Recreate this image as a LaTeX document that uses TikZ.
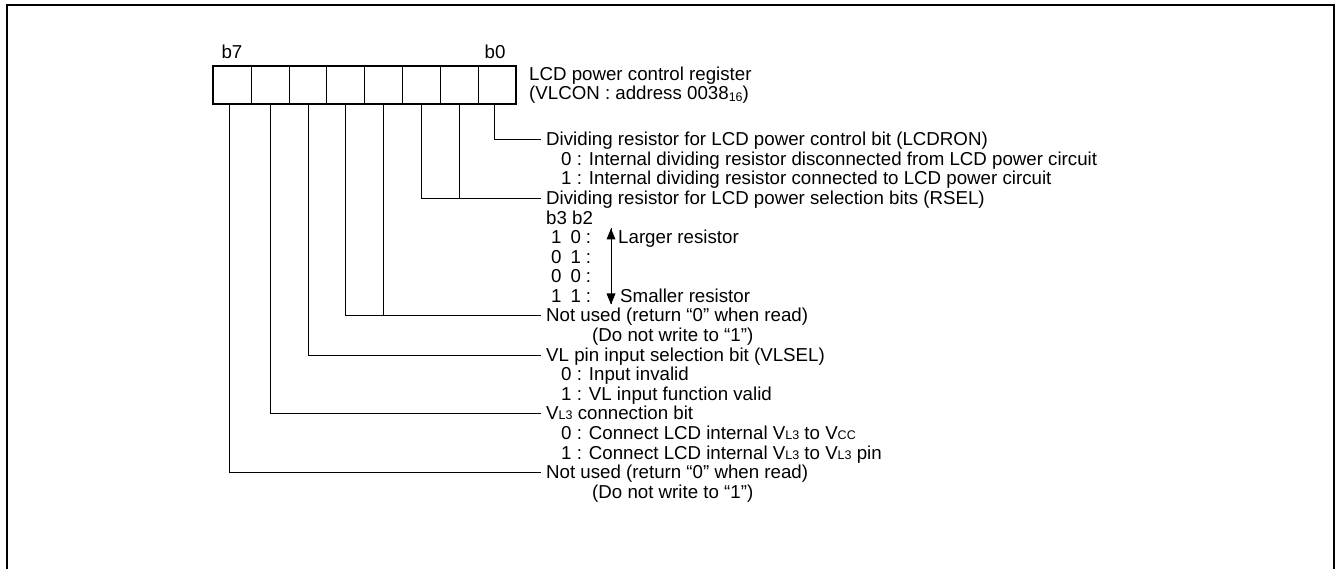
\documentclass[tikz,border=0pt]{standalone}
\usepackage{fontspec}
\setmainfont{Liberation Sans}
\usetikzlibrary{arrows.meta}
\newcommand\smx[1]{{\fontsize{12.5}{12.5}\selectfont #1}}
\newcommand\subx[1]{\raisebox{-1.5pt}{\fontsize{12.5}{12.5}\selectfont #1}}
\newcommand\rowx[2]{#1\hspace{9pt}#2\hspace{5pt}:}
\begin{document}
\begin{tikzpicture}[x=1pt,y=-1pt,
  txt/.style={anchor=west, inner xsep=0pt, inner ysep=0pt, text height=13.5pt, text depth=1.5pt, font=\fontsize{18.7}{19.5}\selectfont},
  lbl/.style={txt, inner xsep=5pt},
  cell/.style={draw, line width=1pt, minimum width=37.8pt, minimum height=37pt, inner sep=0pt, anchor=north west},
  wire/.style={line width=1pt},
  frame/.style={line width=2pt},
  head/.style={fill=black}
]
\useasboundingbox (0,0) rectangle (1336,569);
\fill[white] (0,0) rectangle (1336,569);
\draw[frame] (7,600) -- (7,5.5) -- (1333.5,5.5) -- (1333.5,600);

% register cells
\foreach \i in {0,...,7} {
  \pgfmathtruncatemacro\b{7-\i}
  \node[cell] (c\b) at ({213+37.8*\i},66.5) {};
}
\draw[frame] (c7.north west) rectangle (c0.south east);
\node[txt,anchor=center] (hb7) at (232,53) {b7};
\node[txt,anchor=center] (hb0) at (495,53) {b0};

\node[txt] (title) at (529,74.5) {LCD power control register};
\node[txt] (addr) at (529,94) {(VLCON : address 0038\subx{16})};

% bit descriptions
\node[lbl] (n0) at (541,140) {Dividing resistor for LCD power control bit (LCDRON)};
\node[txt] (n0a) at (561,159.5) {0 : Internal dividing resistor disconnected from LCD power circuit};
\node[txt] (n0b) at (561,179) {1 : Internal dividing resistor connected to LCD power circuit};

\node[lbl] (n1) at (541,198.7) {Dividing resistor for LCD power selection bits (RSEL)};
\node[txt] (n1h) at (546,218.2) {b3 b2};
\node[txt] (n1a) at (551,237.8) {\rowx{1}{0}};
\node[txt] (n1b) at (551,257.4) {\rowx{0}{1}};
\node[txt] (n1c) at (551,276.9) {\rowx{0}{0}};
\node[txt] (n1d) at (551,296.5) {\rowx{1}{1}};
\node[txt] (large) at (618,237.8) {Larger resistor};
\node[txt] (small) at (620,296.5) {Smaller resistor};
\coordinate (atop) at (611,228.5);
\coordinate (abot) at (611,304.5);
\draw[wire] (atop) -- (abot);
\fill[head] (atop) -- ++(-4.5,11) -- ++(9,0) -- cycle;
\fill[head] (abot) -- ++(-4.5,-11) -- ++(9,0) -- cycle;

\node[lbl] (n3) at (541,316) {Not used (return “0” when read)};
\node[txt] (n3a) at (592,335.6) {(Do not write to “1”)};

\node[lbl] (n5) at (541,355.2) {VL pin input selection bit (VLSEL)};
\node[txt] (n5a) at (561,374.8) {0 : Input invalid};
\node[txt] (n5b) at (561,394.3) {1 : VL input function valid};

\node[lbl] (n6) at (541,413.9) {V\smx{L3} connection bit};
\node[txt] (n6a) at (561,433.4) {0 : Connect LCD internal V\smx{L3} to V\smx{CC}};
\node[txt] (n6b) at (561,453) {1 : Connect LCD internal V\smx{L3} to V\smx{L3} pin};

\node[lbl] (n7) at (541,472.6) {Not used (return “0” when read)};
\node[txt] (n7a) at (592,492.1) {(Do not write to “1”)};

% connectors
\draw[wire] ([xshift=-3pt]c0.south) |- (n0.west);
\draw[wire] (c2.south) |- (n1.west);
\draw[wire] (c1.south) -- (c1.south |- n1.west);
\draw[wire] (c4.south) |- (n3.west);
\draw[wire] (c3.south) -- (c3.south |- n3.west);
\draw[wire] (c5.south) |- (n5.west);
\draw[wire] (c6.south) |- (n6.west);
\draw[wire] ([xshift=-3pt]c7.south) |- (n7.west);
\end{tikzpicture}
\end{document}
